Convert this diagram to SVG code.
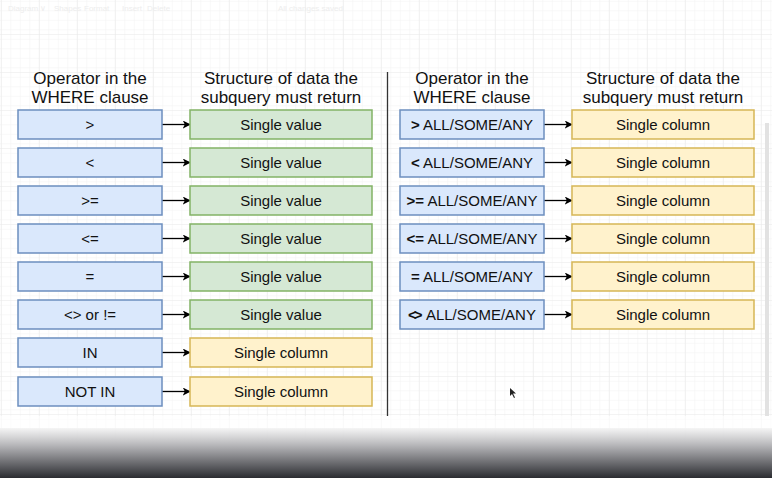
<svg xmlns="http://www.w3.org/2000/svg" width="772" height="478" viewBox="0 0 772 478">
<defs>
<pattern id="minor" x="0.8" y="0.8" width="9.5" height="9.5" patternUnits="userSpaceOnUse">
<path d="M9.5 0 L0 0 L0 9.5" fill="none" stroke="#f2f2f2" stroke-width="1"/>
</pattern>
<pattern id="major" x="0.8" y="34" width="38" height="38" patternUnits="userSpaceOnUse">
<path d="M38 0 L0 0 L0 38" fill="none" stroke="#e8e8e8" stroke-width="1"/>
</pattern>
<linearGradient id="shade" x1="0" y1="0" x2="0" y2="1">
<stop offset="0" stop-color="#f4f4f4" stop-opacity="0.9"/>
<stop offset="0.35" stop-color="#b5b5b8"/>
<stop offset="1" stop-color="#2b2c31"/>
</linearGradient>
<marker id="arr" viewBox="0 0 10 10" refX="9" refY="5" markerWidth="8" markerHeight="8" markerUnits="userSpaceOnUse" orient="auto">
<path d="M0 0 L10 5 L0 10 L2.5 5 Z" fill="#000"/>
</marker>
</defs>
<style>
.hdr{font-family:"Liberation Sans",Arial,sans-serif;font-size:17px;fill:#111;text-anchor:middle}
.lbl{font-family:"Liberation Sans",Arial,sans-serif;font-size:15px;fill:#111;text-anchor:middle}
.b{font-weight:bold}
.op{fill:#dae8fc;stroke:#6c8ebf;stroke-width:1.5}
.sv{fill:#d5e8d4;stroke:#82b366;stroke-width:1.5}
.sc{fill:#fff2cc;stroke:#d6b656;stroke-width:1.5}
.cn{stroke:#000;stroke-width:1.3;fill:none;marker-end:url(#arr)}
.tb{font-family:"Liberation Sans",Arial,sans-serif;font-size:8px;fill:#ededed}
</style>
<rect width="772" height="478" fill="#ffffff"/>
<rect width="772" height="478" fill="url(#minor)"/>
<rect width="772" height="478" fill="url(#major)"/>
<g id="toolbar">
<text class="tb" x="8" y="11">Diagram ∨</text>
<text class="tb" x="54" y="11">Shapes</text>
<text class="tb" x="84" y="11">Format</text>
<text class="tb" x="122" y="11">Insert</text>
<text class="tb" x="147" y="11">Delete</text>
<text class="tb" x="278" y="11">All changes saved</text>
</g>
<g id="headers">
<text class="hdr" x="90" y="84">Operator in the</text>
<text class="hdr" x="90" y="103">WHERE clause</text>
<text class="hdr" x="281" y="84">Structure of data the</text>
<text class="hdr" x="281" y="103">subquery must return</text>
<text class="hdr" x="472" y="84">Operator in the</text>
<text class="hdr" x="472" y="103">WHERE clause</text>
<text class="hdr" x="663" y="84">Structure of data the</text>
<text class="hdr" x="663" y="103">subquery must return</text>
</g>
<line id="divider" x1="387.5" y1="72" x2="387.5" y2="416" stroke="#333" stroke-width="1.3"/>
<g id="connectors">
<line class="cn" x1="162" y1="124.5" x2="190" y2="124.5"/>
<line class="cn" x1="162" y1="162.5" x2="190" y2="162.5"/>
<line class="cn" x1="162" y1="200.5" x2="190" y2="200.5"/>
<line class="cn" x1="162" y1="238.5" x2="190" y2="238.5"/>
<line class="cn" x1="162" y1="276.5" x2="190" y2="276.5"/>
<line class="cn" x1="162" y1="314.5" x2="190" y2="314.5"/>
<line class="cn" x1="162" y1="352.5" x2="190" y2="352.5"/>
<line class="cn" x1="162" y1="391.5" x2="190" y2="391.5"/>
<line class="cn" x1="544" y1="124.5" x2="572" y2="124.5"/>
<line class="cn" x1="544" y1="162.5" x2="572" y2="162.5"/>
<line class="cn" x1="544" y1="200.5" x2="572" y2="200.5"/>
<line class="cn" x1="544" y1="238.5" x2="572" y2="238.5"/>
<line class="cn" x1="544" y1="276.5" x2="572" y2="276.5"/>
<line class="cn" x1="544" y1="314.5" x2="572" y2="314.5"/>
</g>
<g id="op-gt"><rect class="op" x="18" y="110" width="144" height="29"/><text class="lbl" x="90" y="129.5">&gt;</text></g>
<g id="op-lt"><rect class="op" x="18" y="148" width="144" height="29"/><text class="lbl" x="90" y="167.5">&lt;</text></g>
<g id="op-ge"><rect class="op" x="18" y="186" width="144" height="29"/><text class="lbl" x="90" y="205.5">&gt;=</text></g>
<g id="op-le"><rect class="op" x="18" y="224" width="144" height="29"/><text class="lbl" x="90" y="243.5">&lt;=</text></g>
<g id="op-eq"><rect class="op" x="18" y="262" width="144" height="29"/><text class="lbl" x="90" y="281.5">=</text></g>
<g id="op-ne"><rect class="op" x="18" y="300" width="144" height="29"/><text class="lbl" x="90" y="319.5">&lt;&gt; or !=</text></g>
<g id="op-in"><rect class="op" x="18" y="338" width="144" height="29"/><text class="lbl" x="90" y="357.5">IN</text></g>
<g id="op-notin"><rect class="op" x="18" y="377" width="144" height="29"/><text class="lbl" x="90" y="396.5">NOT IN</text></g>
<g id="res-1"><rect class="sv" x="190" y="110" width="182" height="29"/><text class="lbl" x="281" y="129.5">Single value</text></g>
<g id="res-2"><rect class="sv" x="190" y="148" width="182" height="29"/><text class="lbl" x="281" y="167.5">Single value</text></g>
<g id="res-3"><rect class="sv" x="190" y="186" width="182" height="29"/><text class="lbl" x="281" y="205.5">Single value</text></g>
<g id="res-4"><rect class="sv" x="190" y="224" width="182" height="29"/><text class="lbl" x="281" y="243.5">Single value</text></g>
<g id="res-5"><rect class="sv" x="190" y="262" width="182" height="29"/><text class="lbl" x="281" y="281.5">Single value</text></g>
<g id="res-6"><rect class="sv" x="190" y="300" width="182" height="29"/><text class="lbl" x="281" y="319.5">Single value</text></g>
<g id="res-7"><rect class="sc" x="190" y="338" width="182" height="29"/><text class="lbl" x="281" y="357.5">Single column</text></g>
<g id="res-8"><rect class="sc" x="190" y="377" width="182" height="29"/><text class="lbl" x="281" y="396.5">Single column</text></g>
<g id="op-gt-all"><rect class="op" x="400" y="110" width="144" height="29"/><text class="lbl" x="472" y="129.5"><tspan class="b">&gt;</tspan> ALL/SOME/ANY</text></g>
<g id="op-lt-all"><rect class="op" x="400" y="148" width="144" height="29"/><text class="lbl" x="472" y="167.5"><tspan class="b">&lt;</tspan> ALL/SOME/ANY</text></g>
<g id="op-ge-all"><rect class="op" x="400" y="186" width="144" height="29"/><text class="lbl" x="472" y="205.5"><tspan class="b">&gt;=</tspan> ALL/SOME/ANY</text></g>
<g id="op-le-all"><rect class="op" x="400" y="224" width="144" height="29"/><text class="lbl" x="472" y="243.5"><tspan class="b">&lt;=</tspan> ALL/SOME/ANY</text></g>
<g id="op-eq-all"><rect class="op" x="400" y="262" width="144" height="29"/><text class="lbl" x="472" y="281.5"><tspan class="b">=</tspan> ALL/SOME/ANY</text></g>
<g id="op-ne-all"><rect class="op" x="400" y="300" width="144" height="29"/><text class="lbl" x="472" y="319.5"><tspan class="b" letter-spacing="-3">&lt;&gt;</tspan><tspan dx="3"> ALL/SOME/ANY</tspan></text></g>
<g id="col-1"><rect class="sc" x="572" y="110" width="182" height="29"/><text class="lbl" x="663" y="129.5">Single column</text></g>
<g id="col-2"><rect class="sc" x="572" y="148" width="182" height="29"/><text class="lbl" x="663" y="167.5">Single column</text></g>
<g id="col-3"><rect class="sc" x="572" y="186" width="182" height="29"/><text class="lbl" x="663" y="205.5">Single column</text></g>
<g id="col-4"><rect class="sc" x="572" y="224" width="182" height="29"/><text class="lbl" x="663" y="243.5">Single column</text></g>
<g id="col-5"><rect class="sc" x="572" y="262" width="182" height="29"/><text class="lbl" x="663" y="281.5">Single column</text></g>
<g id="col-6"><rect class="sc" x="572" y="300" width="182" height="29"/><text class="lbl" x="663" y="319.5">Single column</text></g>
<rect id="scrollbar" x="765" y="123" width="4" height="293" fill="#e2e2e2"/>
<path d="M510 388 L510 396 L512 394 L514 398 L515 397.5 L513 393.5 L516 393.5 Z" fill="#222"/>
<rect x="0" y="416" width="772" height="14" fill="#ffffff" opacity="0.6"/>
<rect x="0" y="428" width="772" height="50" fill="url(#shade)"/>
</svg>
